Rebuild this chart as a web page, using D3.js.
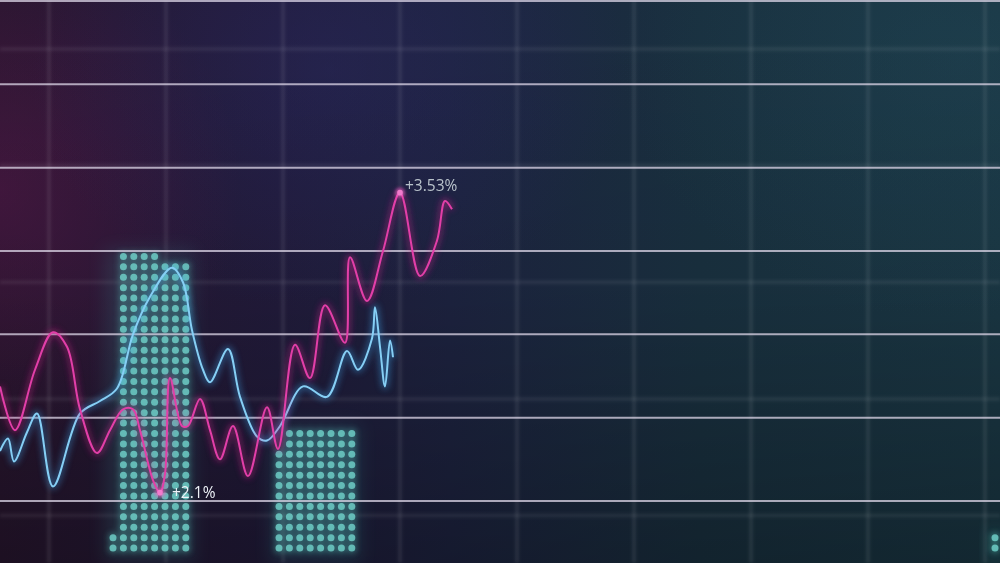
<!DOCTYPE html>
<html><head><meta charset="utf-8">
<script src="https://cdn.jsdelivr.net/npm/d3@7"></script>
<style>html,body{margin:0;padding:0;background:#1c2233;overflow:hidden}svg{display:block}</style>
</head><body><svg id="c" width="1000" height="563"></svg>
<script>
// ---- data ----
const pinkDays   = [0,3,7,10.6,13.4,16,19.4,22,24.6,26.6,28,30.6,32,33,34,36.4,37.6,40,42,44,46.6,49.6,53.4,55.6,59,62,65,69,70,73.4,76.6,80,84,87.4,89,90.4];
const pinkValues = [2.55,2.34,2.63,2.81,2.74,2.44,2.23,2.34,2.44,2.44,2.34,2.10,2.04,2.13,2.59,2.36,2.36,2.49,2.34,2.20,2.36,2.12,2.45,2.25,2.75,2.59,2.94,2.76,3.17,2.96,3.20,3.48,3.08,3.25,3.44,3.40];
const blueDays   = [0,1.6,2.8,5.4,7.4,10.6,16,20,23.4,26.6,30,34.4,36.6,38.4,40.6,42,45.6,48,51.4,53.4,56,60.6,65.4,69.4,71.6,74.4,75,76,77,78,78.6];
const blueValues = [2.24,2.30,2.19,2.33,2.42,2.07,2.42,2.48,2.54,2.80,2.98,3.12,3.05,2.82,2.63,2.57,2.73,2.50,2.31,2.29,2.36,2.55,2.50,2.72,2.63,2.78,2.93,2.74,2.55,2.77,2.69];
const barStartDays = [22.6, 55.8, 199];
const barColumnTops = [
  [1.82,3.17,3.17,3.17,3.17,3.12,3.12,3.12],
  [2.22,2.33,2.33,2.33,2.33,2.33,2.33,2.33],
  [1.83]
];
const dotStepDays = 2.08, dotStepValue = 0.05, dotBaseValue = 1.774;
const majorGridValues = [2.0,2.4,2.8,3.2,3.6,4.0,4.4];
const minorGridValues = [1.93,2.49,3.05,3.61,4.17];
const minorGridDays = [9.8,33.2,56.6,80,103.4,126.8,150.2,173.6,197];
const annotations = [
  {day:32, value:2.04, label:"+2.1%", color:"#eef3f8"},
  {day:80, value:3.48, label:"+3.53%", color:"#b9c3cb"}
];

// ---- chart ----
const W = 1000, H = 563;
const svg = d3.select("#c");
const x = d3.scaleLinear().domain([0,200]).range([0,W]);
const y = d3.scaleLinear().domain([2.0,4.4]).range([501,1]);

const defs = svg.append("defs");
const lg = defs.append("linearGradient").attr("id","bg").attr("x1",0).attr("x2",1).attr("y1",0).attr("y2",0);
[[0,"#28162f"],[0.28,"#211b3b"],[0.45,"#1d2340"],[0.7,"#19303f"],[1,"#1a3744"]].forEach(s=>lg.append("stop").attr("offset",s[0]).attr("stop-color",s[1]));
const vg = defs.append("linearGradient").attr("id","vshade").attr("x1",0).attr("x2",0).attr("y1",0).attr("y2",1);
vg.append("stop").attr("offset",0).attr("stop-color","#000").attr("stop-opacity",0);
vg.append("stop").attr("offset",0.5).attr("stop-color","#000").attr("stop-opacity",0.05);
vg.append("stop").attr("offset",1).attr("stop-color","#000").attr("stop-opacity",0.28);
function radial(id, color, op){
  const r = defs.append("radialGradient").attr("id",id);
  r.append("stop").attr("offset",0).attr("stop-color",color).attr("stop-opacity",op);
  r.append("stop").attr("offset",1).attr("stop-color",color).attr("stop-opacity",0);
}
radial("gMag","#521848",0.6);
radial("gBlue","#2a2a62",0.45);
radial("gTeal","#22495a",0.35);
function glow(id, sd){
  const f = defs.append("filter").attr("id",id).attr("x","-50%").attr("y","-50%").attr("width","200%").attr("height","200%");
  f.append("feGaussianBlur").attr("stdDeviation",sd);
}
glow("blur1",1.5); glow("blur3",3); glow("blur8",9);

svg.append("rect").attr("width",W).attr("height",H).attr("fill","url(#bg)");
svg.append("ellipse").attr("cx",0).attr("cy",190).attr("rx",240).attr("ry",250).attr("fill","url(#gMag)");
svg.append("ellipse").attr("cx",330).attr("cy",70).attr("rx",300).attr("ry",240).attr("fill","url(#gBlue)");
svg.append("ellipse").attr("cx",960).attr("cy",60).attr("rx",340).attr("ry",260).attr("fill","url(#gTeal)");
svg.append("rect").attr("width",W).attr("height",H).attr("fill","url(#vshade)");

// minor (soft) grid
const minor = svg.append("g").attr("filter","url(#blur1)");
minor.selectAll("line.v").data(minorGridDays).join("line")
  .attr("x1",d=>x(d)).attr("x2",d=>x(d)).attr("y1",0).attr("y2",H)
  .attr("stroke","#ffffff").attr("stroke-opacity",0.08).attr("stroke-width",4);
minor.selectAll("line.h").data(minorGridValues).join("line")
  .attr("y1",d=>y(d)).attr("y2",d=>y(d)).attr("x1",0).attr("x2",W)
  .attr("stroke","#ffffff").attr("stroke-opacity",0.065).attr("stroke-width",4);

// bars of dots
const dots = [];
barColumnTops.forEach((tops,b)=>{
  tops.forEach((top,i)=>{
    const n = Math.round((top - dotBaseValue)/dotStepValue) + 1;
    for(let r=0;r<n;r++) dots.push({bar:b, day: barStartDays[b] + i*dotStepDays, value: dotBaseValue + r*dotStepValue});
  });
});
barColumnTops.forEach((tops,b)=>{
  const x0 = x(barStartDays[b]) - 8, x1 = x(barStartDays[b] + (tops.length-1)*dotStepDays) + 8;
  const t = y(d3.max(tops)) - 8;
  svg.append("rect").attr("x",x0).attr("y",t).attr("width",x1-x0).attr("height",H-t)
    .attr("fill","#3aa7a4").attr("opacity",0.16).attr("filter","url(#blur8)");
});
svg.append("g").attr("filter","url(#blur3)").selectAll("circle").data(dots).join("circle")
  .attr("cx",d=>x(d.day)).attr("cy",d=>y(d.value)).attr("r",4.6).attr("fill","#5fd0c6").attr("opacity",0.45);
svg.append("g").selectAll("circle").data(dots).join("circle")
  .attr("cx",d=>x(d.day)).attr("cy",d=>y(d.value)).attr("r",3.5).attr("fill","#6fd0c8").attr("opacity",0.82);

// major grid lines
const major = svg.append("g");
major.selectAll("line.g").data(majorGridValues).join("line")
  .attr("x1",0).attr("x2",W).attr("y1",d=>y(d)).attr("y2",d=>y(d))
  .attr("stroke","#e6e0f0").attr("stroke-opacity",0.3).attr("stroke-width",5).attr("filter","url(#blur1)");
major.selectAll("line.c").data(majorGridValues).join("line")
  .attr("x1",0).attr("x2",W).attr("y1",d=>y(d)).attr("y2",d=>y(d))
  .attr("stroke","#ddd7e8").attr("stroke-opacity",0.75).attr("stroke-width",2);

// lines
const pinkData = pinkDays.map((d,i)=>({day:d, value:pinkValues[i]}));
const blueData = blueDays.map((d,i)=>({day:d, value:blueValues[i]}));
const line = d3.line().x(d=>x(d.day)).y(d=>y(d.value)).curve(d3.curveCatmullRom.alpha(0.5));
function drawSeries(data, glowColor, coreColor){
  svg.append("path").attr("d",line(data)).attr("fill","none").attr("stroke",glowColor)
    .attr("stroke-width",6).attr("stroke-opacity",0.4).attr("filter","url(#blur3)");
  svg.append("path").attr("d",line(data)).attr("fill","none").attr("stroke",coreColor)
    .attr("stroke-width",2).attr("stroke-linejoin","round");
}
drawSeries(blueData,"#3fa8ee","#86cff5");
drawSeries(pinkData,"#d4208f","#e23fa8");

// annotations
annotations.forEach((a,i)=>{
  svg.append("circle").attr("cx",x(a.day)).attr("cy",y(a.value)).attr("r",5).attr("fill","#ff6ad0").attr("opacity",0.5).attr("filter","url(#blur1)");
  svg.append("circle").attr("cx",x(a.day)).attr("cy",y(a.value)).attr("r",2.8).attr("fill","#f27ccd");
  svg.append("text").attr("x",x(a.day)+(i===0?12:5)).attr("y",y(a.value)+(i===0?5:-2))
    .attr("fill",a.color).attr("font-family","'Open Sans', 'DejaVu Sans', sans-serif").attr("font-size",15.5)
    .text(a.label);
});
</script></body></html>
